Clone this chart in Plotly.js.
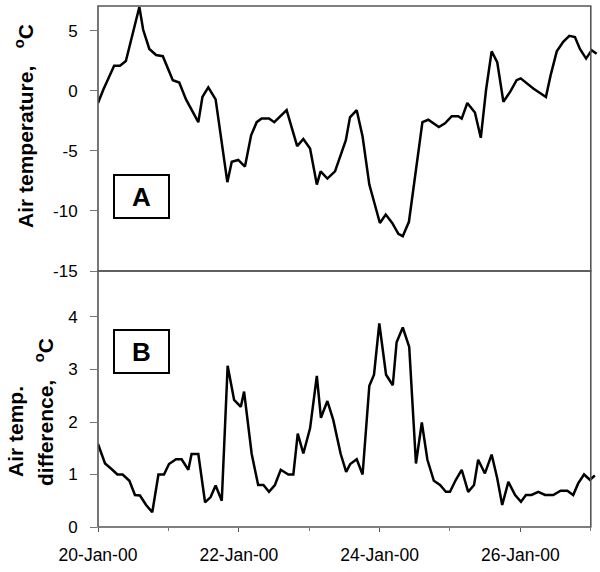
<!DOCTYPE html>
<html>
<head>
<meta charset="utf-8">
<script src="https://cdn.plot.ly/plotly-3.0.1.min.js"></script>
<style>html,body{margin:0;padding:0;background:#fff}#chart{width:600px;height:572px}</style>
</head>
<body>
<div id="chart"></div>
<script>
// Hours since 20-Jan-2000 00:00 and values
const tempHours = [0,1.8,5.5,7.5,9.5,14.1,15.4,17.5,19.8,22.1,25.5,27.7,30.0,34.2,35.6,37.6,40.1,44.1,45.6,47.8,50.1,52.2,54.1,55.8,58.3,60.1,64.3,67.9,70.0,72.3,74.6,75.9,78.2,80.8,84.5,85.9,88.2,90.2,92.5,93.9,96.1,98.1,100.3,102.4,103.9,106.0,108.4,110.6,112.6,116.2,118.3,120.6,122.8,124.0,125.9,128.5,130.5,132.3,134.2,136.1,138.2,140.7,142.7,144.1,148.4,152.7,154.3,156.4,158.6,160.7,162.6,164.3,166.4,168.3,170.0];
const airTemp = [-1.0,0.1,2.1,2.1,2.5,7.0,5.1,3.5,3.0,2.9,0.9,0.7,-0.7,-2.6,-0.5,0.3,-0.7,-7.6,-5.9,-5.75,-6.3,-3.7,-2.6,-2.3,-2.3,-2.6,-1.6,-4.6,-4.0,-4.8,-7.8,-6.7,-7.3,-6.7,-4.1,-2.2,-1.6,-3.8,-7.8,-9.1,-11.0,-10.3,-11.0,-11.9,-12.1,-10.9,-6.4,-2.6,-2.4,-3.0,-2.7,-2.1,-2.1,-2.3,-1.0,-1.8,-3.9,0.1,3.3,2.4,-0.9,0.0,0.9,1.05,0.2,-0.5,1.3,3.3,4.1,4.6,4.5,3.5,2.7,3.4,3.1];

const diffHours = [0,2.4,4.7,6.6,8.4,10.7,12.6,14.3,16.4,18.5,20.6,22.5,24.2,26.6,28.5,30.8,31.9,34.2,36.5,38.4,40.1,42.2,44.2,46.4,48.7,49.8,52.4,54.6,56.4,58.3,60.3,62.3,64.9,66.6,68.1,70.0,72.3,74.6,76.0,78.2,80.2,82.7,84.6,86.0,88.2,90.2,92.5,94.1,95.9,98.2,100.5,101.8,103.9,106.1,108.4,110.4,112.3,114.5,116.6,118.6,120.0,122.0,124.0,126.2,128.2,129.6,131.9,134.2,136.1,137.8,139.9,142.2,144.2,145.9,147.8,150.1,152.4,155.2,157.7,160.0,162.0,163.7,165.7,167.7,169.4];
const tempDiff = [1.58,1.21,1.10,1.00,1.00,0.88,0.61,0.60,0.42,0.28,1.00,1.00,1.20,1.29,1.29,1.09,1.39,1.39,0.47,0.57,0.79,0.50,3.07,2.42,2.29,2.58,1.39,0.80,0.80,0.67,0.80,1.09,1.00,1.00,1.78,1.40,1.88,2.88,2.08,2.40,2.04,1.40,1.05,1.20,1.29,1.00,2.69,2.90,3.88,2.90,2.70,3.52,3.80,3.43,1.21,1.99,1.28,0.88,0.80,0.67,0.67,0.90,1.09,0.67,0.80,1.28,1.02,1.38,0.93,0.42,0.86,0.61,0.48,0.61,0.61,0.67,0.61,0.61,0.69,0.69,0.61,0.83,1.00,0.90,0.98];

const xTickVals = ['2000-01-20','2000-01-22','2000-01-24','2000-01-26'];
const xTickText = ['20-Jan-00','22-Jan-00','24-Jan-00','26-Jan-00'];
const yTopTicks = [-15,-10,-5,0,5];
const yTopText = ['-15','-10','-5','0','5'];
const yBotTicks = [0,1,2,3,4];
const yBotText = ['0','1','2','3','4'];

const start = Date.UTC(2000,0,20);
const toDate = h => new Date(start + h*3600000).toISOString().replace('T',' ').slice(0,19);

const xStartH = 0, xEndH = 170.8, frameEndH = 168; // axis range, right frame at 27-Jan
const split = 256/521;
const frameFrac = (frameEndH - xStartH)/(xEndH - xStartH);

const font = 'Arial, "Liberation Sans", sans-serif';
const lineStyle = {color:'#000', width:2.5};

const traces = [
  {x: tempHours.map(toDate), y: airTemp, type:'scatter', mode:'lines', line: lineStyle, xaxis:'x', yaxis:'y', hoverinfo:'skip'},
  {x: diffHours.map(toDate), y: tempDiff, type:'scatter', mode:'lines', line: lineStyle, xaxis:'x', yaxis:'y2', hoverinfo:'skip'}
];

const frameLine = {color:'#555', width:1.6};
const boxCommon = {xref:'paper', yref:'paper', xanchor:'center', yanchor:'middle', showarrow:false,
  font:{size:26, family:font}, bordercolor:'#000', borderwidth:2, borderpad:0, width:53, height:41, bgcolor:'#fff'};
const titleCommon = {xref:'paper', yref:'paper', xanchor:'center', yanchor:'middle', textangle:-90, showarrow:false,
  font:{size:21, family:font}};

const layout = {
  width:600, height:572,
  margin:{l:98, r:1, t:6, b:45},
  paper_bgcolor:'#fff', plot_bgcolor:'#fff',
  showlegend:false,
  font:{family:font, color:'#000', size:17},
  xaxis:{
    type:'date', range:[toDate(xStartH), toDate(xEndH)], anchor:'y2',
    tickvals: xTickVals, ticktext: xTickText,
    ticks:'outside', ticklen:4, tickcolor:'#555', tickwidth:1,
    ticklabelstandoff: 8,
    tickfont:{size:17.5, family:font},
    showgrid:false, zeroline:false, showline:false,
    minor:{dtick:86400000, tick0:'2000-01-21', ticks:'outside', ticklen:3, tickcolor:'#777', showgrid:false}
  },
  yaxis:{
    domain:[split,1], range:[-15, 7.08],
    tickvals:yTopTicks, ticktext:yTopText,
    ticks:'outside', ticklen:7, tickcolor:'#777', tickwidth:1,
    ticklabelstandoff:9,
    tickfont:{size:17, family:font},
    showgrid:false, zeroline:false, showline:false
  },
  yaxis2:{
    domain:[0,split], range:[0, 4.876],
    tickvals:yBotTicks, ticktext:yBotText,
    ticks:'outside', ticklen:7, tickcolor:'#777', tickwidth:1,
    ticklabelstandoff:9,
    tickfont:{size:17, family:font},
    showgrid:false, zeroline:false, showline:false
  },
  shapes:[
    {type:'rect', xref:'paper', yref:'paper', x0:0, x1:frameFrac, y0:split, y1:1, line:frameLine, fillcolor:'rgba(0,0,0,0)'},
    {type:'rect', xref:'paper', yref:'paper', x0:0, x1:frameFrac, y0:0, y1:split, line:frameLine, fillcolor:'rgba(0,0,0,0)'}
  ],
  annotations:[
    Object.assign({text:'<b>A</b>', x:43/501, y:(527-196)/521}, boxCommon),
    Object.assign({text:'<b>B</b>', x:43/501, y:(527-351)/521}, boxCommon),
    Object.assign({text:'<b>Air temperature,   <sup>o</sup>C</b>', x:(24-98)/501, y:(527-126)/521}, titleCommon),
    Object.assign({text:'<b>Air temp.</b>', x:(15-98)/501, y:(527-432)/521}, titleCommon),
    Object.assign({text:'<b>difference,   <sup>o</sup>C</b>', x:(44-98)/501, y:(527-412)/521}, titleCommon)
  ]
};

Plotly.newPlot('chart', traces, layout, {staticPlot:true, displayModeBar:false});
</script>
</body>
</html>
